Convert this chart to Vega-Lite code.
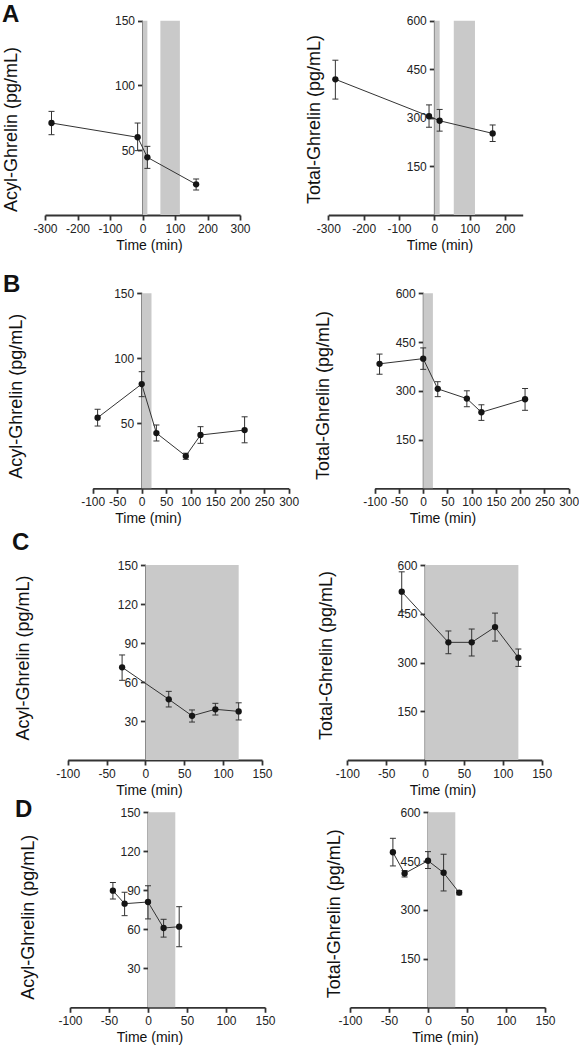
{
  "$schema": "https://vega.github.io/schema/vega-lite/v6.json",
  "padding": 0,
  "background": "white",
  "columns": 2,
  "spacing": 0,
  "bounds": "flush",
  "config": {
    "view": {"stroke": null},
    "font": "Liberation Sans",
    "axis": {"domainColor": "#333", "domainWidth": 1.8, "tickColor": "#333", "tickWidth": 1.8, "tickSize": 5, "labelFont": "Liberation Sans", "labelFontSize": 12, "labelColor": "#222", "labelPadding": 3, "titleFont": "Liberation Sans", "titleFontWeight": "normal", "titleColor": "#111", "grid": false, "labelFlush": false, "labelOverlap": false, "labelBound": false, "zindex": 1},
    "axisX": {"titleFontSize": 14, "labelPadding": 3.5},
    "axisY": {"titleFontSize": 18},
    "title": {"font": "Liberation Sans", "fontSize": 24, "fontWeight": "bold", "color": "#111", "anchor": "start", "frame": "group", "offset": 0, "baseline": "alphabetic"}
  },
  "datasets": {
    "dA1": [{"t": -280, "v": 71, "lo": 62, "hi": 80}, {"t": -15, "v": 60, "lo": 49.7, "hi": 71}, {"t": 15, "v": 44.5, "lo": 36, "hi": 53}, {"t": 165, "v": 23.7, "lo": 19.3, "hi": 27.8}],
    "dA2": [{"t": -280, "v": 419, "lo": 358, "hi": 478}, {"t": -15, "v": 305, "lo": 271, "hi": 340}, {"t": 15, "v": 291, "lo": 259, "hi": 326}, {"t": 165, "v": 252, "lo": 227, "hi": 278}],
    "dB1": [{"t": -90, "v": 54.3, "lo": 47.9, "hi": 60.8}, {"t": 0, "v": 80.2, "lo": 70.5, "hi": 89.7}, {"t": 30, "v": 42.5, "lo": 36.4, "hi": 48.7}, {"t": 90, "v": 24.8, "lo": 22.3, "hi": 27}, {"t": 120, "v": 41, "lo": 34.6, "hi": 47.4}, {"t": 210, "v": 44.8, "lo": 35, "hi": 55}],
    "dB2": [{"t": -90, "v": 383, "lo": 351, "hi": 413}, {"t": 0, "v": 399, "lo": 366, "hi": 432}, {"t": 30, "v": 306, "lo": 282, "hi": 328}, {"t": 90, "v": 276, "lo": 251, "hi": 300}, {"t": 120, "v": 234, "lo": 209, "hi": 257}, {"t": 210, "v": 274, "lo": 240, "hi": 307}],
    "dC1": [{"t": -30, "v": 71.3, "lo": 61.3, "hi": 80.8}, {"t": 30, "v": 46.7, "lo": 40.8, "hi": 52.8}, {"t": 60, "v": 34, "lo": 29.2, "hi": 38.5}, {"t": 90, "v": 39, "lo": 34.6, "hi": 43.6}, {"t": 120, "v": 37.4, "lo": 30.8, "hi": 44}],
    "dC2": [{"t": -30, "v": 518, "lo": 456, "hi": 579}, {"t": 30, "v": 362, "lo": 327, "hi": 397}, {"t": 60, "v": 362, "lo": 320, "hi": 403}, {"t": 90, "v": 409, "lo": 366, "hi": 452}, {"t": 120, "v": 315, "lo": 288, "hi": 341.5}],
    "dD1": [{"t": -45, "v": 89.7, "lo": 83.3, "hi": 96}, {"t": -30, "v": 79.7, "lo": 70.5, "hi": 88.5}, {"t": 0, "v": 81, "lo": 68, "hi": 93.5}, {"t": 20, "v": 61, "lo": 54, "hi": 67.7}, {"t": 40, "v": 62, "lo": 46.6, "hi": 77.4}],
    "dD2": [{"t": -45, "v": 477, "lo": 435, "hi": 520}, {"t": -30, "v": 412, "lo": 401, "hi": 421}, {"t": 0, "v": 451, "lo": 427, "hi": 479}, {"t": 20, "v": 414, "lo": 358, "hi": 471}, {"t": 40, "v": 353, "lo": 346, "hi": 359}],
    "sA": [{"t": 0, "t2": 15}, {"t": 55, "t2": 115}],
    "sB": [{"t": 0, "t2": 20}],
    "sC": [{"t": 0, "t2": 120}],
    "sD": [{"t": 0, "t2": 35}]
  },
  "concat": [
    {
      "width": 300, "height": 265,
      "title": {"text": "A", "dx": 2, "dy": 31},
      "data": {"name": "dA1"},
      "encoding": {"x": {"field": "t", "type": "quantitative", "title": "Time (min)", "scale": {"domain": [-300, 300], "range": [45, 240], "nice": false, "zero": false}, "axis": {"orient": "bottom", "offset": -50, "values": [-300, -200, -100, 0, 100, 200, 300], "labelExpr": "'' + datum.value", "titleX": 149, "titleY": 34.5, "titleAlign": "center", "titleBaseline": "alphabetic"}}},
      "layer": [
        {"data": {"name": "sA"}, "mark": {"type": "rect", "color": "#c9c9c9"}, "encoding": {"x2": {"field": "t2"}, "y": {"datum": 0, "type": "quantitative", "title": "Acyl-Ghrelin (pg/mL)", "scale": {"domain": [0, 150], "range": [215, 20.7], "nice": false}, "axis": {"orient": "left", "offset": -142.5, "values": [50, 100, 150], "titleX": -126, "titleY": 129, "titleAngle": -90, "titleAlign": "center", "titleBaseline": "alphabetic"}}, "y2": {"datum": 150}}},
        {"mark": {"type": "line", "color": "#333", "strokeWidth": 1}, "encoding": {"y": {"field": "v", "type": "quantitative", "title": "Acyl-Ghrelin (pg/mL)", "scale": {"domain": [0, 150], "range": [215, 20.7], "nice": false}, "axis": {"orient": "left", "offset": -142.5, "values": [50, 100, 150], "titleX": -126, "titleY": 129, "titleAngle": -90, "titleAlign": "center", "titleBaseline": "alphabetic"}}}},
        {"mark": {"type": "rule", "color": "#333", "strokeWidth": 1}, "encoding": {"y": {"field": "lo", "type": "quantitative", "title": "Acyl-Ghrelin (pg/mL)", "scale": {"domain": [0, 150], "range": [215, 20.7], "nice": false}, "axis": {"orient": "left", "offset": -142.5, "values": [50, 100, 150], "titleX": -126, "titleY": 129, "titleAngle": -90, "titleAlign": "center", "titleBaseline": "alphabetic"}}, "y2": {"field": "hi", "title": "Acyl-Ghrelin (pg/mL)"}}},
        {"mark": {"type": "tick", "orient": "horizontal", "size": 6, "thickness": 1, "color": "#333", "opacity": 1}, "encoding": {"y": {"field": "lo", "type": "quantitative", "title": "Acyl-Ghrelin (pg/mL)", "scale": {"domain": [0, 150], "range": [215, 20.7], "nice": false}, "axis": {"orient": "left", "offset": -142.5, "values": [50, 100, 150], "titleX": -126, "titleY": 129, "titleAngle": -90, "titleAlign": "center", "titleBaseline": "alphabetic"}}}},
        {"mark": {"type": "tick", "orient": "horizontal", "size": 6, "thickness": 1, "color": "#333", "opacity": 1}, "encoding": {"y": {"field": "hi", "type": "quantitative", "title": "Acyl-Ghrelin (pg/mL)", "scale": {"domain": [0, 150], "range": [215, 20.7], "nice": false}, "axis": {"orient": "left", "offset": -142.5, "values": [50, 100, 150], "titleX": -126, "titleY": 129, "titleAngle": -90, "titleAlign": "center", "titleBaseline": "alphabetic"}}}},
        {"mark": {"type": "circle", "size": 40, "color": "#151515", "opacity": 1}, "encoding": {"y": {"field": "v", "type": "quantitative", "title": "Acyl-Ghrelin (pg/mL)", "scale": {"domain": [0, 150], "range": [215, 20.7], "nice": false}, "axis": {"orient": "left", "offset": -142.5, "values": [50, 100, 150], "titleX": -126, "titleY": 129, "titleAngle": -90, "titleAlign": "center", "titleBaseline": "alphabetic"}}}}
      ]
    },
    {
      "width": 279, "height": 265,
      "data": {"name": "dA2"},
      "encoding": {"x": {"field": "t", "type": "quantitative", "title": "Time (min)", "scale": {"domain": [-300, 250], "range": [28.3, 222.7], "nice": false, "zero": false}, "axis": {"orient": "bottom", "offset": -50, "values": [-300, -200, -100, 0, 100, 200], "labelExpr": "'' + datum.value", "titleX": 139.5, "titleY": 34.5, "titleAlign": "center", "titleBaseline": "alphabetic"}}},
      "layer": [
        {"data": {"name": "sA"}, "mark": {"type": "rect", "color": "#c9c9c9"}, "encoding": {"x2": {"field": "t2"}, "y": {"datum": 0, "type": "quantitative", "title": "Total-Ghrelin (pg/mL)", "scale": {"domain": [0, 600], "range": [215, 20.7], "nice": false}, "axis": {"orient": "left", "offset": -134.3, "values": [150, 300, 450, 600], "titleX": -114.8, "titleY": 119, "titleAngle": -90, "titleAlign": "center", "titleBaseline": "alphabetic"}}, "y2": {"datum": 600}}},
        {"mark": {"type": "line", "color": "#333", "strokeWidth": 1}, "encoding": {"y": {"field": "v", "type": "quantitative", "title": "Total-Ghrelin (pg/mL)", "scale": {"domain": [0, 600], "range": [215, 20.7], "nice": false}, "axis": {"orient": "left", "offset": -134.3, "values": [150, 300, 450, 600], "titleX": -114.8, "titleY": 119, "titleAngle": -90, "titleAlign": "center", "titleBaseline": "alphabetic"}}}},
        {"mark": {"type": "rule", "color": "#333", "strokeWidth": 1}, "encoding": {"y": {"field": "lo", "type": "quantitative", "title": "Total-Ghrelin (pg/mL)", "scale": {"domain": [0, 600], "range": [215, 20.7], "nice": false}, "axis": {"orient": "left", "offset": -134.3, "values": [150, 300, 450, 600], "titleX": -114.8, "titleY": 119, "titleAngle": -90, "titleAlign": "center", "titleBaseline": "alphabetic"}}, "y2": {"field": "hi", "title": "Total-Ghrelin (pg/mL)"}}},
        {"mark": {"type": "tick", "orient": "horizontal", "size": 6, "thickness": 1, "color": "#333", "opacity": 1}, "encoding": {"y": {"field": "lo", "type": "quantitative", "title": "Total-Ghrelin (pg/mL)", "scale": {"domain": [0, 600], "range": [215, 20.7], "nice": false}, "axis": {"orient": "left", "offset": -134.3, "values": [150, 300, 450, 600], "titleX": -114.8, "titleY": 119, "titleAngle": -90, "titleAlign": "center", "titleBaseline": "alphabetic"}}}},
        {"mark": {"type": "tick", "orient": "horizontal", "size": 6, "thickness": 1, "color": "#333", "opacity": 1}, "encoding": {"y": {"field": "hi", "type": "quantitative", "title": "Total-Ghrelin (pg/mL)", "scale": {"domain": [0, 600], "range": [215, 20.7], "nice": false}, "axis": {"orient": "left", "offset": -134.3, "values": [150, 300, 450, 600], "titleX": -114.8, "titleY": 119, "titleAngle": -90, "titleAlign": "center", "titleBaseline": "alphabetic"}}}},
        {"mark": {"type": "circle", "size": 40, "color": "#151515", "opacity": 1}, "encoding": {"y": {"field": "v", "type": "quantitative", "title": "Total-Ghrelin (pg/mL)", "scale": {"domain": [0, 600], "range": [215, 20.7], "nice": false}, "axis": {"orient": "left", "offset": -134.3, "values": [150, 300, 450, 600], "titleX": -114.8, "titleY": 119, "titleAngle": -90, "titleAlign": "center", "titleBaseline": "alphabetic"}}}}
      ]
    },
    {
      "width": 300, "height": 265,
      "title": {"text": "B", "dx": 3, "dy": 35.7},
      "data": {"name": "dB1"},
      "encoding": {"x": {"field": "t", "type": "quantitative", "title": "Time (min)", "scale": {"domain": [-100, 300], "range": [92.7, 288.7], "nice": false, "zero": false}, "axis": {"orient": "bottom", "offset": -41.7, "values": [-100, -50, 0, 50, 100, 150, 200, 250, 300], "labelExpr": "'' + datum.value", "titleX": 148, "titleY": 34.5, "titleAlign": "center", "titleBaseline": "alphabetic"}}},
      "layer": [
        {"data": {"name": "sB"}, "mark": {"type": "rect", "color": "#c9c9c9"}, "encoding": {"x2": {"field": "t2"}, "y": {"datum": 0, "type": "quantitative", "title": "Acyl-Ghrelin (pg/mL)", "scale": {"domain": [0, 150], "range": [223.3, 28.3], "nice": false}, "axis": {"orient": "left", "offset": -141.7, "values": [50, 100, 150], "titleX": -120.2, "titleY": 130.8, "titleAngle": -90, "titleAlign": "center", "titleBaseline": "alphabetic"}}, "y2": {"datum": 150}}},
        {"mark": {"type": "line", "color": "#333", "strokeWidth": 1}, "encoding": {"y": {"field": "v", "type": "quantitative", "title": "Acyl-Ghrelin (pg/mL)", "scale": {"domain": [0, 150], "range": [223.3, 28.3], "nice": false}, "axis": {"orient": "left", "offset": -141.7, "values": [50, 100, 150], "titleX": -120.2, "titleY": 130.8, "titleAngle": -90, "titleAlign": "center", "titleBaseline": "alphabetic"}}}},
        {"mark": {"type": "rule", "color": "#333", "strokeWidth": 1}, "encoding": {"y": {"field": "lo", "type": "quantitative", "title": "Acyl-Ghrelin (pg/mL)", "scale": {"domain": [0, 150], "range": [223.3, 28.3], "nice": false}, "axis": {"orient": "left", "offset": -141.7, "values": [50, 100, 150], "titleX": -120.2, "titleY": 130.8, "titleAngle": -90, "titleAlign": "center", "titleBaseline": "alphabetic"}}, "y2": {"field": "hi", "title": "Acyl-Ghrelin (pg/mL)"}}},
        {"mark": {"type": "tick", "orient": "horizontal", "size": 6, "thickness": 1, "color": "#333", "opacity": 1}, "encoding": {"y": {"field": "lo", "type": "quantitative", "title": "Acyl-Ghrelin (pg/mL)", "scale": {"domain": [0, 150], "range": [223.3, 28.3], "nice": false}, "axis": {"orient": "left", "offset": -141.7, "values": [50, 100, 150], "titleX": -120.2, "titleY": 130.8, "titleAngle": -90, "titleAlign": "center", "titleBaseline": "alphabetic"}}}},
        {"mark": {"type": "tick", "orient": "horizontal", "size": 6, "thickness": 1, "color": "#333", "opacity": 1}, "encoding": {"y": {"field": "hi", "type": "quantitative", "title": "Acyl-Ghrelin (pg/mL)", "scale": {"domain": [0, 150], "range": [223.3, 28.3], "nice": false}, "axis": {"orient": "left", "offset": -141.7, "values": [50, 100, 150], "titleX": -120.2, "titleY": 130.8, "titleAngle": -90, "titleAlign": "center", "titleBaseline": "alphabetic"}}}},
        {"mark": {"type": "circle", "size": 40, "color": "#151515", "opacity": 1}, "encoding": {"y": {"field": "v", "type": "quantitative", "title": "Acyl-Ghrelin (pg/mL)", "scale": {"domain": [0, 150], "range": [223.3, 28.3], "nice": false}, "axis": {"orient": "left", "offset": -141.7, "values": [50, 100, 150], "titleX": -120.2, "titleY": 130.8, "titleAngle": -90, "titleAlign": "center", "titleBaseline": "alphabetic"}}}}
      ]
    },
    {
      "width": 279, "height": 265,
      "data": {"name": "dB2"},
      "encoding": {"x": {"field": "t", "type": "quantitative", "title": "Time (min)", "scale": {"domain": [-100, 300], "range": [74.7, 268.7], "nice": false, "zero": false}, "axis": {"orient": "bottom", "offset": -41.7, "values": [-100, -50, 0, 50, 100, 150, 200, 250, 300], "labelExpr": "'' + datum.value", "titleX": 142.5, "titleY": 34.5, "titleAlign": "center", "titleBaseline": "alphabetic"}}},
      "layer": [
        {"data": {"name": "sB"}, "mark": {"type": "rect", "color": "#c9c9c9"}, "encoding": {"x2": {"field": "t2"}, "y": {"datum": 0, "type": "quantitative", "title": "Total-Ghrelin (pg/mL)", "scale": {"domain": [0, 600], "range": [223.3, 28.3], "nice": false}, "axis": {"orient": "left", "offset": -123.2, "values": [150, 300, 450, 600], "titleX": -95, "titleY": 130, "titleAngle": -90, "titleAlign": "center", "titleBaseline": "alphabetic"}}, "y2": {"datum": 600}}},
        {"mark": {"type": "line", "color": "#333", "strokeWidth": 1}, "encoding": {"y": {"field": "v", "type": "quantitative", "title": "Total-Ghrelin (pg/mL)", "scale": {"domain": [0, 600], "range": [223.3, 28.3], "nice": false}, "axis": {"orient": "left", "offset": -123.2, "values": [150, 300, 450, 600], "titleX": -95, "titleY": 130, "titleAngle": -90, "titleAlign": "center", "titleBaseline": "alphabetic"}}}},
        {"mark": {"type": "rule", "color": "#333", "strokeWidth": 1}, "encoding": {"y": {"field": "lo", "type": "quantitative", "title": "Total-Ghrelin (pg/mL)", "scale": {"domain": [0, 600], "range": [223.3, 28.3], "nice": false}, "axis": {"orient": "left", "offset": -123.2, "values": [150, 300, 450, 600], "titleX": -95, "titleY": 130, "titleAngle": -90, "titleAlign": "center", "titleBaseline": "alphabetic"}}, "y2": {"field": "hi", "title": "Total-Ghrelin (pg/mL)"}}},
        {"mark": {"type": "tick", "orient": "horizontal", "size": 6, "thickness": 1, "color": "#333", "opacity": 1}, "encoding": {"y": {"field": "lo", "type": "quantitative", "title": "Total-Ghrelin (pg/mL)", "scale": {"domain": [0, 600], "range": [223.3, 28.3], "nice": false}, "axis": {"orient": "left", "offset": -123.2, "values": [150, 300, 450, 600], "titleX": -95, "titleY": 130, "titleAngle": -90, "titleAlign": "center", "titleBaseline": "alphabetic"}}}},
        {"mark": {"type": "tick", "orient": "horizontal", "size": 6, "thickness": 1, "color": "#333", "opacity": 1}, "encoding": {"y": {"field": "hi", "type": "quantitative", "title": "Total-Ghrelin (pg/mL)", "scale": {"domain": [0, 600], "range": [223.3, 28.3], "nice": false}, "axis": {"orient": "left", "offset": -123.2, "values": [150, 300, 450, 600], "titleX": -95, "titleY": 130, "titleAngle": -90, "titleAlign": "center", "titleBaseline": "alphabetic"}}}},
        {"mark": {"type": "circle", "size": 40, "color": "#151515", "opacity": 1}, "encoding": {"y": {"field": "v", "type": "quantitative", "title": "Total-Ghrelin (pg/mL)", "scale": {"domain": [0, 600], "range": [223.3, 28.3], "nice": false}, "axis": {"orient": "left", "offset": -123.2, "values": [150, 300, 450, 600], "titleX": -95, "titleY": 130, "titleAngle": -90, "titleAlign": "center", "titleBaseline": "alphabetic"}}}}
      ]
    },
    {
      "width": 300, "height": 270,
      "title": {"text": "C", "dx": 12, "dy": 28.7},
      "data": {"name": "dC1"},
      "encoding": {"x": {"field": "t", "type": "quantitative", "title": "Time (min)", "scale": {"domain": [-100, 150], "range": [67.7, 262], "nice": false, "zero": false}, "axis": {"orient": "bottom", "offset": -40, "values": [-100, -50, 0, 50, 100, 150], "labelExpr": "'' + datum.value", "titleX": 149, "titleY": 34.5, "titleAlign": "center", "titleBaseline": "alphabetic"}}},
      "layer": [
        {"data": {"name": "sC"}, "mark": {"type": "rect", "color": "#c9c9c9"}, "encoding": {"x2": {"field": "t2"}, "y": {"datum": 0, "type": "quantitative", "title": "Acyl-Ghrelin (pg/mL)", "scale": {"domain": [0, 150], "range": [230, 35], "nice": false}, "axis": {"orient": "left", "offset": -145.4, "values": [30, 60, 90, 120, 150], "titleX": -117.2, "titleY": 127.5, "titleAngle": -90, "titleAlign": "center", "titleBaseline": "alphabetic"}}, "y2": {"datum": 150}}},
        {"mark": {"type": "line", "color": "#333", "strokeWidth": 1}, "encoding": {"y": {"field": "v", "type": "quantitative", "title": "Acyl-Ghrelin (pg/mL)", "scale": {"domain": [0, 150], "range": [230, 35], "nice": false}, "axis": {"orient": "left", "offset": -145.4, "values": [30, 60, 90, 120, 150], "titleX": -117.2, "titleY": 127.5, "titleAngle": -90, "titleAlign": "center", "titleBaseline": "alphabetic"}}}},
        {"mark": {"type": "rule", "color": "#333", "strokeWidth": 1}, "encoding": {"y": {"field": "lo", "type": "quantitative", "title": "Acyl-Ghrelin (pg/mL)", "scale": {"domain": [0, 150], "range": [230, 35], "nice": false}, "axis": {"orient": "left", "offset": -145.4, "values": [30, 60, 90, 120, 150], "titleX": -117.2, "titleY": 127.5, "titleAngle": -90, "titleAlign": "center", "titleBaseline": "alphabetic"}}, "y2": {"field": "hi", "title": "Acyl-Ghrelin (pg/mL)"}}},
        {"mark": {"type": "tick", "orient": "horizontal", "size": 6, "thickness": 1, "color": "#333", "opacity": 1}, "encoding": {"y": {"field": "lo", "type": "quantitative", "title": "Acyl-Ghrelin (pg/mL)", "scale": {"domain": [0, 150], "range": [230, 35], "nice": false}, "axis": {"orient": "left", "offset": -145.4, "values": [30, 60, 90, 120, 150], "titleX": -117.2, "titleY": 127.5, "titleAngle": -90, "titleAlign": "center", "titleBaseline": "alphabetic"}}}},
        {"mark": {"type": "tick", "orient": "horizontal", "size": 6, "thickness": 1, "color": "#333", "opacity": 1}, "encoding": {"y": {"field": "hi", "type": "quantitative", "title": "Acyl-Ghrelin (pg/mL)", "scale": {"domain": [0, 150], "range": [230, 35], "nice": false}, "axis": {"orient": "left", "offset": -145.4, "values": [30, 60, 90, 120, 150], "titleX": -117.2, "titleY": 127.5, "titleAngle": -90, "titleAlign": "center", "titleBaseline": "alphabetic"}}}},
        {"mark": {"type": "circle", "size": 40, "color": "#151515", "opacity": 1}, "encoding": {"y": {"field": "v", "type": "quantitative", "title": "Acyl-Ghrelin (pg/mL)", "scale": {"domain": [0, 150], "range": [230, 35], "nice": false}, "axis": {"orient": "left", "offset": -145.4, "values": [30, 60, 90, 120, 150], "titleX": -117.2, "titleY": 127.5, "titleAngle": -90, "titleAlign": "center", "titleBaseline": "alphabetic"}}}}
      ]
    },
    {
      "width": 279, "height": 270,
      "data": {"name": "dC2"},
      "encoding": {"x": {"field": "t", "type": "quantitative", "title": "Time (min)", "scale": {"domain": [-100, 150], "range": [47.3, 241.7], "nice": false, "zero": false}, "axis": {"orient": "bottom", "offset": -40, "values": [-100, -50, 0, 50, 100, 150], "labelExpr": "'' + datum.value", "titleX": 142.5, "titleY": 34.5, "titleAlign": "center", "titleBaseline": "alphabetic"}}},
      "layer": [
        {"data": {"name": "sC"}, "mark": {"type": "rect", "color": "#c9c9c9"}, "encoding": {"x2": {"field": "t2"}, "y": {"datum": 0, "type": "quantitative", "title": "Total-Ghrelin (pg/mL)", "scale": {"domain": [0, 600], "range": [230, 35], "nice": false}, "axis": {"orient": "left", "offset": -125, "values": [150, 300, 450, 600], "titleX": -93.5, "titleY": 125, "titleAngle": -90, "titleAlign": "center", "titleBaseline": "alphabetic"}}, "y2": {"datum": 600}}},
        {"mark": {"type": "line", "color": "#333", "strokeWidth": 1}, "encoding": {"y": {"field": "v", "type": "quantitative", "title": "Total-Ghrelin (pg/mL)", "scale": {"domain": [0, 600], "range": [230, 35], "nice": false}, "axis": {"orient": "left", "offset": -125, "values": [150, 300, 450, 600], "titleX": -93.5, "titleY": 125, "titleAngle": -90, "titleAlign": "center", "titleBaseline": "alphabetic"}}}},
        {"mark": {"type": "rule", "color": "#333", "strokeWidth": 1}, "encoding": {"y": {"field": "lo", "type": "quantitative", "title": "Total-Ghrelin (pg/mL)", "scale": {"domain": [0, 600], "range": [230, 35], "nice": false}, "axis": {"orient": "left", "offset": -125, "values": [150, 300, 450, 600], "titleX": -93.5, "titleY": 125, "titleAngle": -90, "titleAlign": "center", "titleBaseline": "alphabetic"}}, "y2": {"field": "hi", "title": "Total-Ghrelin (pg/mL)"}}},
        {"mark": {"type": "tick", "orient": "horizontal", "size": 6, "thickness": 1, "color": "#333", "opacity": 1}, "encoding": {"y": {"field": "lo", "type": "quantitative", "title": "Total-Ghrelin (pg/mL)", "scale": {"domain": [0, 600], "range": [230, 35], "nice": false}, "axis": {"orient": "left", "offset": -125, "values": [150, 300, 450, 600], "titleX": -93.5, "titleY": 125, "titleAngle": -90, "titleAlign": "center", "titleBaseline": "alphabetic"}}}},
        {"mark": {"type": "tick", "orient": "horizontal", "size": 6, "thickness": 1, "color": "#333", "opacity": 1}, "encoding": {"y": {"field": "hi", "type": "quantitative", "title": "Total-Ghrelin (pg/mL)", "scale": {"domain": [0, 600], "range": [230, 35], "nice": false}, "axis": {"orient": "left", "offset": -125, "values": [150, 300, 450, 600], "titleX": -93.5, "titleY": 125, "titleAngle": -90, "titleAlign": "center", "titleBaseline": "alphabetic"}}}},
        {"mark": {"type": "circle", "size": 40, "color": "#151515", "opacity": 1}, "encoding": {"y": {"field": "v", "type": "quantitative", "title": "Total-Ghrelin (pg/mL)", "scale": {"domain": [0, 600], "range": [230, 35], "nice": false}, "axis": {"orient": "left", "offset": -125, "values": [150, 300, 450, 600], "titleX": -93.5, "titleY": 125, "titleAngle": -90, "titleAlign": "center", "titleBaseline": "alphabetic"}}}}
      ]
    },
    {
      "width": 300, "height": 250,
      "title": {"text": "D", "dx": 15, "dy": 25.7},
      "data": {"name": "dD1"},
      "encoding": {"x": {"field": "t", "type": "quantitative", "title": "Time (min)", "scale": {"domain": [-100, 150], "range": [70, 265], "nice": false, "zero": false}, "axis": {"orient": "bottom", "offset": -42.7, "values": [-100, -50, 0, 50, 100, 150], "labelExpr": "'' + datum.value", "titleX": 149.5, "titleY": 34.5, "titleAlign": "center", "titleBaseline": "alphabetic"}}},
      "layer": [
        {"data": {"name": "sD"}, "mark": {"type": "rect", "color": "#c9c9c9"}, "encoding": {"x2": {"field": "t2"}, "y": {"datum": 0, "type": "quantitative", "title": "Acyl-Ghrelin (pg/mL)", "scale": {"domain": [0, 150], "range": [207.3, 12.3], "nice": false}, "axis": {"orient": "left", "offset": -148, "values": [30, 60, 90, 120, 150], "titleX": -114.8, "titleY": 116.7, "titleAngle": -90, "titleAlign": "center", "titleBaseline": "alphabetic"}}, "y2": {"datum": 150}}},
        {"mark": {"type": "line", "color": "#333", "strokeWidth": 1}, "encoding": {"y": {"field": "v", "type": "quantitative", "title": "Acyl-Ghrelin (pg/mL)", "scale": {"domain": [0, 150], "range": [207.3, 12.3], "nice": false}, "axis": {"orient": "left", "offset": -148, "values": [30, 60, 90, 120, 150], "titleX": -114.8, "titleY": 116.7, "titleAngle": -90, "titleAlign": "center", "titleBaseline": "alphabetic"}}}},
        {"mark": {"type": "rule", "color": "#333", "strokeWidth": 1}, "encoding": {"y": {"field": "lo", "type": "quantitative", "title": "Acyl-Ghrelin (pg/mL)", "scale": {"domain": [0, 150], "range": [207.3, 12.3], "nice": false}, "axis": {"orient": "left", "offset": -148, "values": [30, 60, 90, 120, 150], "titleX": -114.8, "titleY": 116.7, "titleAngle": -90, "titleAlign": "center", "titleBaseline": "alphabetic"}}, "y2": {"field": "hi", "title": "Acyl-Ghrelin (pg/mL)"}}},
        {"mark": {"type": "tick", "orient": "horizontal", "size": 6, "thickness": 1, "color": "#333", "opacity": 1}, "encoding": {"y": {"field": "lo", "type": "quantitative", "title": "Acyl-Ghrelin (pg/mL)", "scale": {"domain": [0, 150], "range": [207.3, 12.3], "nice": false}, "axis": {"orient": "left", "offset": -148, "values": [30, 60, 90, 120, 150], "titleX": -114.8, "titleY": 116.7, "titleAngle": -90, "titleAlign": "center", "titleBaseline": "alphabetic"}}}},
        {"mark": {"type": "tick", "orient": "horizontal", "size": 6, "thickness": 1, "color": "#333", "opacity": 1}, "encoding": {"y": {"field": "hi", "type": "quantitative", "title": "Acyl-Ghrelin (pg/mL)", "scale": {"domain": [0, 150], "range": [207.3, 12.3], "nice": false}, "axis": {"orient": "left", "offset": -148, "values": [30, 60, 90, 120, 150], "titleX": -114.8, "titleY": 116.7, "titleAngle": -90, "titleAlign": "center", "titleBaseline": "alphabetic"}}}},
        {"mark": {"type": "circle", "size": 40, "color": "#151515", "opacity": 1}, "encoding": {"y": {"field": "v", "type": "quantitative", "title": "Acyl-Ghrelin (pg/mL)", "scale": {"domain": [0, 150], "range": [207.3, 12.3], "nice": false}, "axis": {"orient": "left", "offset": -148, "values": [30, 60, 90, 120, 150], "titleX": -114.8, "titleY": 116.7, "titleAngle": -90, "titleAlign": "center", "titleBaseline": "alphabetic"}}}}
      ]
    },
    {
      "width": 279, "height": 250,
      "data": {"name": "dD2"},
      "encoding": {"x": {"field": "t", "type": "quantitative", "title": "Time (min)", "scale": {"domain": [-100, 150], "range": [50, 245], "nice": false, "zero": false}, "axis": {"orient": "bottom", "offset": -42.7, "values": [-100, -50, 0, 50, 100, 150], "labelExpr": "'' + datum.value", "titleX": 145, "titleY": 34.5, "titleAlign": "center", "titleBaseline": "alphabetic"}}},
      "layer": [
        {"data": {"name": "sD"}, "mark": {"type": "rect", "color": "#c9c9c9"}, "encoding": {"x2": {"field": "t2"}, "y": {"datum": 0, "type": "quantitative", "title": "Total-Ghrelin (pg/mL)", "scale": {"domain": [0, 600], "range": [207.3, 12.3], "nice": false}, "axis": {"orient": "left", "offset": -128, "values": [150, 300, 450, 600], "titleX": -88.2, "titleY": 113.3, "titleAngle": -90, "titleAlign": "center", "titleBaseline": "alphabetic"}}, "y2": {"datum": 600}}},
        {"mark": {"type": "line", "color": "#333", "strokeWidth": 1}, "encoding": {"y": {"field": "v", "type": "quantitative", "title": "Total-Ghrelin (pg/mL)", "scale": {"domain": [0, 600], "range": [207.3, 12.3], "nice": false}, "axis": {"orient": "left", "offset": -128, "values": [150, 300, 450, 600], "titleX": -88.2, "titleY": 113.3, "titleAngle": -90, "titleAlign": "center", "titleBaseline": "alphabetic"}}}},
        {"mark": {"type": "rule", "color": "#333", "strokeWidth": 1}, "encoding": {"y": {"field": "lo", "type": "quantitative", "title": "Total-Ghrelin (pg/mL)", "scale": {"domain": [0, 600], "range": [207.3, 12.3], "nice": false}, "axis": {"orient": "left", "offset": -128, "values": [150, 300, 450, 600], "titleX": -88.2, "titleY": 113.3, "titleAngle": -90, "titleAlign": "center", "titleBaseline": "alphabetic"}}, "y2": {"field": "hi", "title": "Total-Ghrelin (pg/mL)"}}},
        {"mark": {"type": "tick", "orient": "horizontal", "size": 6, "thickness": 1, "color": "#333", "opacity": 1}, "encoding": {"y": {"field": "lo", "type": "quantitative", "title": "Total-Ghrelin (pg/mL)", "scale": {"domain": [0, 600], "range": [207.3, 12.3], "nice": false}, "axis": {"orient": "left", "offset": -128, "values": [150, 300, 450, 600], "titleX": -88.2, "titleY": 113.3, "titleAngle": -90, "titleAlign": "center", "titleBaseline": "alphabetic"}}}},
        {"mark": {"type": "tick", "orient": "horizontal", "size": 6, "thickness": 1, "color": "#333", "opacity": 1}, "encoding": {"y": {"field": "hi", "type": "quantitative", "title": "Total-Ghrelin (pg/mL)", "scale": {"domain": [0, 600], "range": [207.3, 12.3], "nice": false}, "axis": {"orient": "left", "offset": -128, "values": [150, 300, 450, 600], "titleX": -88.2, "titleY": 113.3, "titleAngle": -90, "titleAlign": "center", "titleBaseline": "alphabetic"}}}},
        {"mark": {"type": "circle", "size": 40, "color": "#151515", "opacity": 1}, "encoding": {"y": {"field": "v", "type": "quantitative", "title": "Total-Ghrelin (pg/mL)", "scale": {"domain": [0, 600], "range": [207.3, 12.3], "nice": false}, "axis": {"orient": "left", "offset": -128, "values": [150, 300, 450, 600], "titleX": -88.2, "titleY": 113.3, "titleAngle": -90, "titleAlign": "center", "titleBaseline": "alphabetic"}}}}
      ]
    }
  ]
}
